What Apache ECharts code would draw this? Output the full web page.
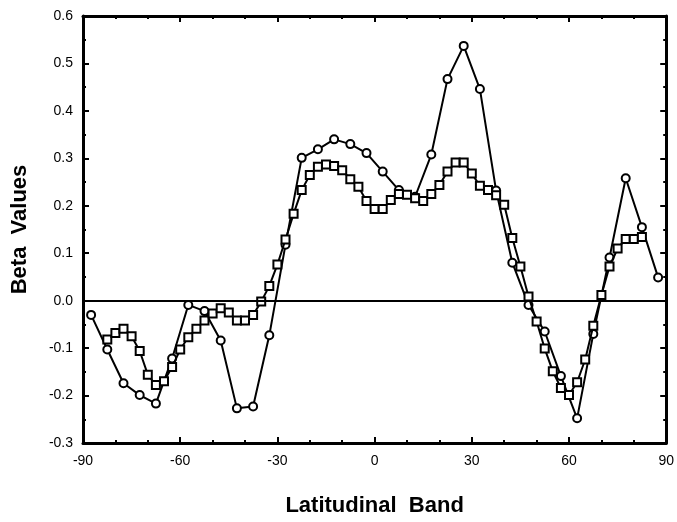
<!DOCTYPE html>
<html>
<head>
<meta charset="utf-8">
<script src="https://cdn.jsdelivr.net/npm/echarts@6/dist/echarts.min.js"></script>
<style>
html,body{margin:0;padding:0;background:#fff;}
#chart{width:677px;height:522px;}
</style>
</head>
<body>
<div id="chart"></div>
<script>
// Latitudes of the 5-degree bands (circles)
var latCircle = [-87.5,-82.5,-77.5,-72.5,-67.5,-62.5,-57.5,-52.5,-47.5,-42.5,-37.5,-32.5,
  -27.5,-22.5,-17.5,-12.5,-7.5,-2.5,2.5,7.5,12.5,17.5,22.5,27.5,32.5,37.5,42.5,47.5,
  52.5,57.5,62.5,67.5,72.5,77.5,82.5,87.5];
var betaCircle = [-0.030,-0.103,-0.174,-0.199,-0.217,-0.122,-0.009,-0.022,-0.084,-0.227,-0.223,-0.073,
  0.118,0.301,0.319,0.340,0.330,0.311,0.272,0.233,0.219,0.308,0.467,0.537,0.446,0.232,0.080,-0.009,
  -0.065,-0.159,-0.248,-0.070,0.091,0.258,0.155,0.049];

// Latitudes of the 2.5-degree bands (squares)
var latSquare = [-82.5,-80,-77.5,-75,-72.5,-70,-67.5,-65,-62.5,-60,-57.5,-55,-52.5,-50,-47.5,-45,-42.5,-40,-37.5,-35,
  -32.5,-30,-27.5,-25,-22.5,-20,-17.5,-15,-12.5,-10,-7.5,-5,-2.5,0,
  2.5,5,7.5,10,12.5,15,17.5,20,22.5,25,27.5,30,32.5,35,37.5,40,
  42.5,45,47.5,50,52.5,55,57.5,60,62.5,65,67.5,70,72.5,75,77.5,80,82.5];
var betaSquare = [-0.082,-0.068,-0.059,-0.075,-0.106,-0.156,-0.178,-0.170,-0.140,-0.103,-0.077,-0.059,-0.042,-0.027,-0.016,-0.025,-0.042,-0.042,-0.030,-0.002,
  0.031,0.076,0.129,0.183,0.233,0.265,0.282,0.287,0.284,0.275,0.256,0.240,0.210,0.193,
  0.193,0.212,0.225,0.223,0.216,0.210,0.225,0.244,0.272,0.291,0.291,0.268,0.242,0.233,0.222,0.202,
  0.132,0.072,0.009,-0.044,-0.101,-0.149,-0.184,-0.199,-0.172,-0.124,-0.053,0.012,0.072,0.110,0.130,0.130,0.134];

var xTicks = {min:-90, max:90, interval:30};
var yTicks = {min:-0.3, max:0.6, interval:0.1};

function pairs(xs, ys){ return xs.map(function(x,i){ return [x, ys[i]]; }); }

var FONT = '"Liberation Sans", Arial, Helvetica, sans-serif';
var axisLine = {show:true, onZero:false, lineStyle:{color:'#000', width:3}};
var tick = {show:true, inside:true, length:6, lineStyle:{color:'#000', width:2}};

function xAxisDef(pos, showLabel){
  return {
    type:'value', position:pos, min:xTicks.min, max:xTicks.max, interval:xTicks.interval,
    axisLine:axisLine, axisTick:tick,
    minorTick:{show:true, splitNumber:3, length:3, lineStyle:{color:'#000', width:2}},
    splitLine:{show:false}, minorSplitLine:{show:false},
    axisLabel:{show:showLabel, color:'#000', fontSize:14, fontFamily:FONT, margin:11},
    name: showLabel ? 'Latitudinal  Band' : '',
    nameLocation:'middle', nameGap:52,
    nameTextStyle:{color:'#000', fontSize:22, fontWeight:'bold', fontFamily:FONT}
  };
}
function yAxisDef(pos, showLabel){
  return {
    type:'value', position:pos, min:yTicks.min, max:yTicks.max, interval:yTicks.interval,
    axisLine:axisLine, axisTick:tick,
    minorTick:{show:true, splitNumber:2, length:3, lineStyle:{color:'#000', width:2}},
    splitLine:{show:false}, minorSplitLine:{show:false},
    axisLabel:{show:showLabel, color:'#000', fontSize:14, fontFamily:FONT, margin:10,
      formatter:function(v){ return v.toFixed(1); }},
    name: showLabel ? 'Beta  Values' : '',
    nameLocation:'middle', nameGap:52, nameRotate:90,
    nameTextStyle:{color:'#000', fontSize:22, fontWeight:'bold', fontFamily:FONT}
  };
}

var chart = echarts.init(document.getElementById('chart'), null, {renderer:'canvas'});
chart.setOption({
  animation:false,
  backgroundColor:'#fff',
  grid:{left:83, right:10, top:16, bottom:78, containLabel:false},
  xAxis:[xAxisDef('bottom', true), xAxisDef('top', false)],
  yAxis:[yAxisDef('left', true), yAxisDef('right', false)],
  series:[
    {
      type:'line', name:'5 degree', xAxisIndex:0, yAxisIndex:0,
      data:pairs(latCircle, betaCircle),
      symbol:'circle', symbolSize:8, showAllSymbol:true,
      lineStyle:{color:'#000', width:2},
      itemStyle:{color:'#fff', borderColor:'#000', borderWidth:2},
      z:3,
      markLine:{
        silent:true, symbol:['none','none'], label:{show:false},
        lineStyle:{color:'#000', width:2, type:'solid'},
        data:[{yAxis:0}]
      }
    },
    {
      type:'line', name:'2.5 degree', xAxisIndex:0, yAxisIndex:0,
      data:pairs(latSquare, betaSquare),
      symbol:'rect', symbolSize:8, showAllSymbol:true,
      lineStyle:{color:'#000', width:2},
      itemStyle:{color:'#fff', borderColor:'#000', borderWidth:2},
      z:4
    }
  ]
});
</script>
</body>
</html>
